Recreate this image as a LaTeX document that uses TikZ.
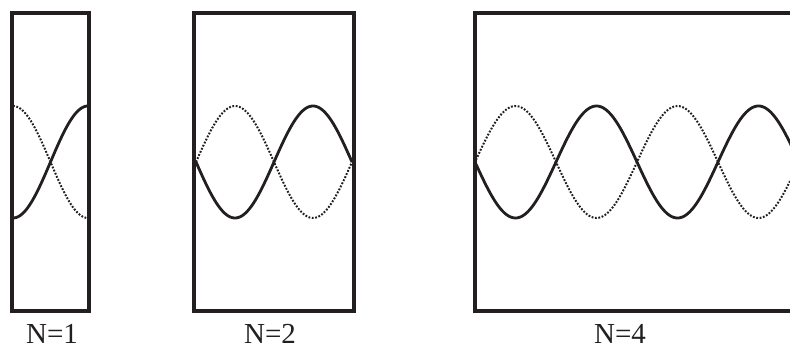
\documentclass[tikz,border=0pt]{standalone}
\usepackage{fontspec}
\setmainfont{Liberation Serif}
\definecolor{ink}{HTML}{231F20}
\begin{document}
\begin{tikzpicture}[x=1pt,y=-1pt,
  frame/.style={draw=ink,line width=4pt},
  wave/.style={draw=ink,line width=2.8pt,smooth},
  dotwave/.style={draw=ink,line width=2pt,smooth,dash pattern=on 1.8pt off 1.6pt},
  lab/.style={font=\fontsize{29}{29}\selectfont,text=ink,anchor=base,inner sep=0pt,text depth=0pt}]
\useasboundingbox (0,0) rectangle (790,347);
\clip (0,0) rectangle (790,347);
% box 1
\draw[frame] (12,12.7) rectangle (89,311);
\draw[wave] plot[domain=13:88,samples=60] (\x,{162+56*cos((\x-13)/75*180)});
\draw[dotwave] plot[domain=13:88,samples=60] (\x,{162-56*cos((\x-13)/75*180)});
% box 2
\draw[frame] (194,12.7) rectangle (354,311);
\draw[wave] plot[domain=196:352,samples=100] (\x,{162+56*sin((\x-196)/78*180)});
\draw[dotwave] plot[domain=196:352,samples=100] (\x,{162-56*sin((\x-196)/78*180)});
% box 3
\draw[frame] (474.7,12.7) rectangle (810,311);
\draw[wave] plot[domain=476:792,samples=180] (\x,{162+56*sin((\x-475)/81*180)});
\draw[dotwave] plot[domain=476:792,samples=180] (\x,{162-56*sin((\x-475)/81*180)});
% labels
\node[lab] (n1) at (52,344) {N=1};
\node[lab] (n2) at (270,344) {N=2};
\node[lab] (n4) at (620,344) {N=4};
\end{tikzpicture}
\end{document}
